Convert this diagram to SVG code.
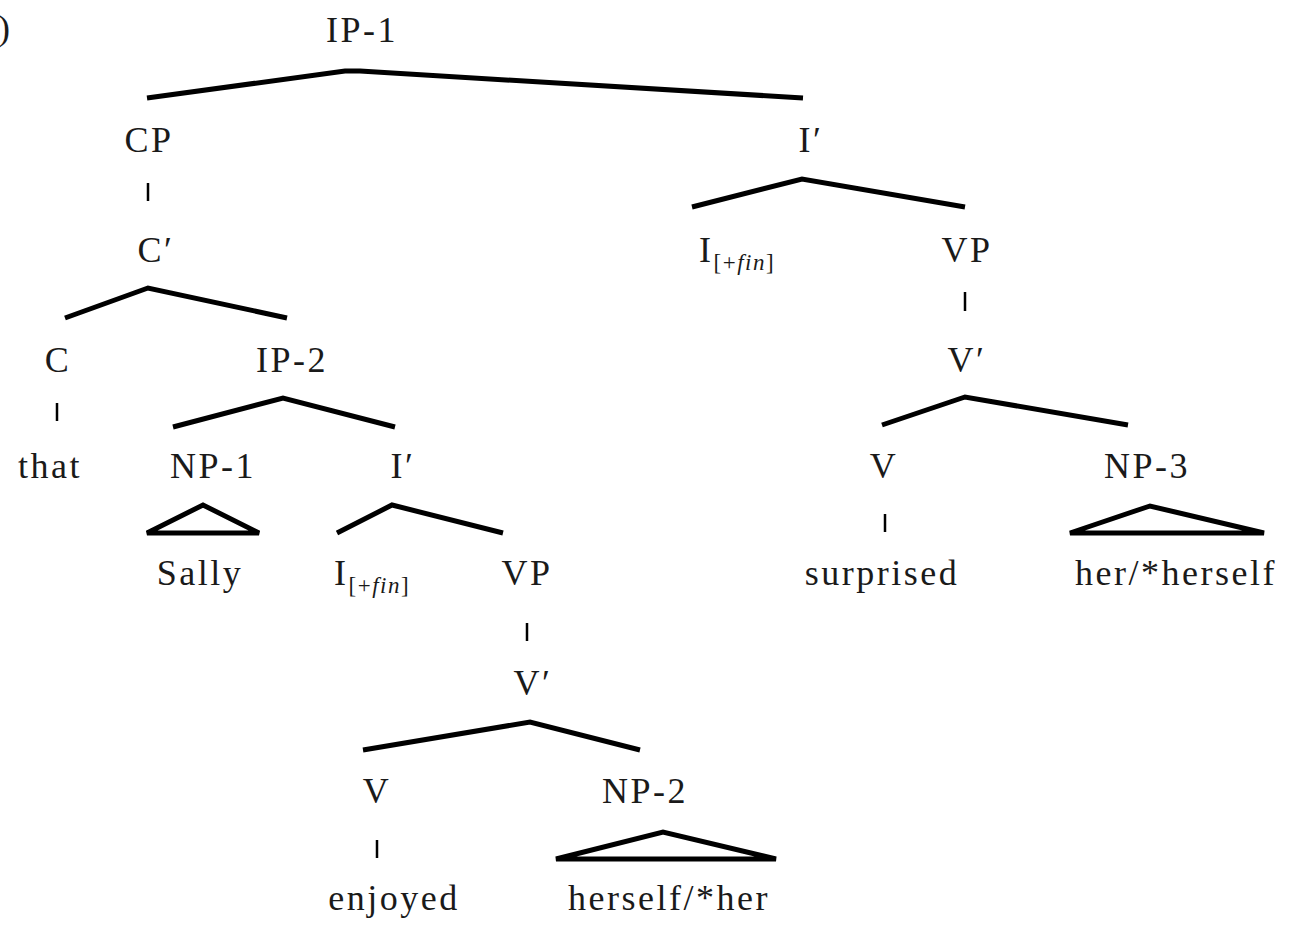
<svg xmlns="http://www.w3.org/2000/svg" width="1293" height="925" viewBox="0 0 1293 925">
<style>
text{font-family:"Liberation Serif","Times New Roman",serif;font-size:36px;fill:#1a1a1a;letter-spacing:2.5px}
.m{text-anchor:middle}
.sub{font-size:23px;letter-spacing:1.5px}
.it{font-style:italic}
.ln{fill:none;stroke:#000;stroke-width:5;stroke-linejoin:miter;stroke-linecap:butt}
.tri{fill:none;stroke:#000;stroke-width:5;stroke-linejoin:miter}
.bar{stroke:#000;stroke-width:2.5}
</style>
<rect width="1293" height="925" fill="#fff"/>
<text x="-2" y="40">)</text>
<g id="connectors">
<polyline class="ln" points="147,98 345,71 360,71 803,98"/>
<line class="bar" x1="148" y1="183" x2="148" y2="201"/>
<polyline class="ln" points="692,207 802,179 965,207"/>
<polyline class="ln" points="65,318 148,288 287,318"/>
<line class="bar" x1="965" y1="292" x2="965" y2="311"/>
<polyline class="ln" points="173,427 283,398 395,427"/>
<line class="bar" x1="57" y1="403" x2="57" y2="421"/>
<polyline class="ln" points="882,425 965,397 1128,425"/>
<polygon class="tri" points="147,533 203,505 259,533"/>
<polyline class="ln" points="337,533 392,505 503,533"/>
<line class="bar" x1="885" y1="514" x2="885" y2="532"/>
<polygon class="tri" points="1070,533 1150,506 1264,533"/>
<line class="bar" x1="527" y1="623" x2="527" y2="641"/>
<polyline class="ln" points="363,750 530,722 640,750"/>
<line class="bar" x1="377" y1="840" x2="377" y2="858"/>
<polygon class="tri" points="556,859 663,832 776,859"/>
</g>
<g id="n-ip1"><text class="m" x="362" y="42">IP-1</text></g>
<g id="n-cp"><text class="m" x="149" y="152">CP</text></g>
<g id="n-ibar1"><text class="m" x="811" y="152">I′</text></g>
<g id="n-cbar"><text class="m" x="156" y="262">C′</text></g>
<g id="n-i1"><text x="699" y="262">I<tspan class="sub" dy="8">[+<tspan class="it">fin</tspan>]</tspan></text></g>
<g id="n-vp1"><text class="m" x="967" y="262">VP</text></g>
<g id="n-c"><text class="m" x="58" y="372">C</text></g>
<g id="n-ip2"><text class="m" x="292" y="372">IP-2</text></g>
<g id="n-vbar1"><text class="m" x="967" y="372">V′</text></g>
<g id="n-that"><text x="18" y="478">that</text></g>
<g id="n-np1"><text class="m" x="213" y="478">NP-1</text></g>
<g id="n-ibar2"><text class="m" x="403" y="478">I′</text></g>
<g id="n-v1"><text class="m" x="884" y="478">V</text></g>
<g id="n-np3"><text class="m" x="1147" y="478">NP-3</text></g>
<g id="n-sally"><text class="m" x="200" y="585">Sally</text></g>
<g id="n-i2"><text x="334" y="585">I<tspan class="sub" dy="8">[+<tspan class="it">fin</tspan>]</tspan></text></g>
<g id="n-vp2"><text class="m" x="527" y="585">VP</text></g>
<g id="n-surprised"><text class="m" x="882" y="585">surprised</text></g>
<g id="n-her"><text class="m" x="1176" y="585">her/*herself</text></g>
<g id="n-vbar2"><text class="m" x="533" y="695">V′</text></g>
<g id="n-v2"><text class="m" x="377" y="803">V</text></g>
<g id="n-np2"><text class="m" x="645" y="803">NP-2</text></g>
<g id="n-enjoyed"><text class="m" x="394" y="910">enjoyed</text></g>
<g id="n-herself"><text class="m" x="669" y="910">herself/*her</text></g>
</svg>
